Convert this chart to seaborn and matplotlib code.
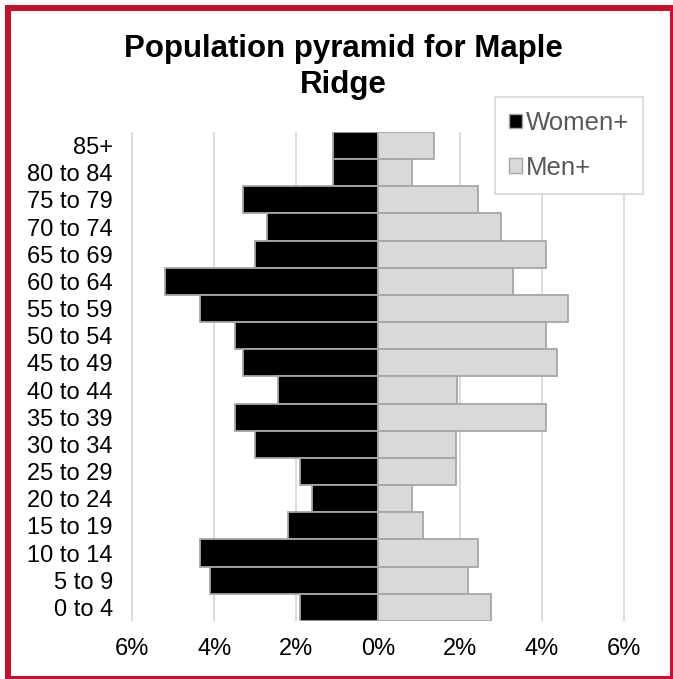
import matplotlib.pyplot as plt
import matplotlib.patches as mpatches
import pandas as pd
import seaborn as sns

# age groups, top of pyramid first
age_groups = ['85+', '80 to 84', '75 to 79', '70 to 74', '65 to 69', '60 to 64',
              '55 to 59', '50 to 54', '45 to 49', '40 to 44', '35 to 39', '30 to 34',
              '25 to 29', '20 to 24', '15 to 19', '10 to 14', '5 to 9', '0 to 4']
women = [1.1, 1.1, 3.3, 2.7, 3.0, 5.2, 4.35, 3.5, 3.3, 2.45, 3.5, 3.0,
         1.9, 1.6, 2.2, 4.35, 4.1, 1.9]
men = [1.37, 0.82, 2.45, 3.0, 4.1, 3.3, 4.65, 4.1, 4.37, 1.93, 4.1, 1.9,
       1.9, 0.82, 1.1, 2.45, 2.2, 2.75]
x_ticks = [-6, -4, -2, 0, 2, 4, 6]
x_labels = ['6%', '4%', '2%', '0%', '2%', '4%', '6%']

df = pd.DataFrame({'age': age_groups,
                   'women': [-w for w in women],
                   'men': men})

sns.set_style('white')
plt.rcParams['font.family'] = ['Liberation Sans', 'DejaVu Sans']

fig = plt.figure(figsize=(6.73, 6.79), dpi=100)
ax = fig.add_axes([131 / 673, 1 - 621 / 679, (625 - 131) / 673, (621 - 132) / 679])

edge = '#A6A6A6'
sns.barplot(data=df, x='women', y='age', color='black', edgecolor=edge,
            linewidth=1.3, width=1.0, saturation=1, ax=ax, zorder=3)
sns.barplot(data=df, x='men', y='age', color='#D9D9D9', edgecolor=edge,
            linewidth=1.3, width=1.0, saturation=1, ax=ax, zorder=3)

ax.set_xlim(-6.03, 6.03)
ax.set_ylim(len(age_groups) - 0.5, -0.5)
ax.set_xticks(x_ticks)
ax.set_xticklabels(x_labels)
ax.set_xlabel('')
ax.set_ylabel('')
ax.grid(axis='x', color='#D9D9D9', linewidth=1.3, zorder=0)
ax.grid(axis='y', visible=False)
ax.set_axisbelow(True)
for s in ax.spines.values():
    s.set_visible(False)
ax.tick_params(axis='both', length=0, labelsize=17, colors='black')
ax.tick_params(axis='y', pad=13)
ax.tick_params(axis='x', pad=12)

fig.text(343 / 673, 1 - 34 / 679, 'Population pyramid for Maple\nRidge',
         ha='center', va='top', fontsize=22.5, fontweight='bold', linespacing=1.25,
         color='black')

handles = [mpatches.Patch(facecolor='black', edgecolor=edge, label='Women+'),
           mpatches.Patch(facecolor='#D9D9D9', edgecolor=edge, label='Men+')]
leg = fig.legend(handles=handles, loc='upper left', bbox_to_anchor=(495 / 673, 1 - 97 / 679),
                 fontsize=18.5, frameon=True, fancybox=False, framealpha=1,
                 edgecolor='#D9D9D9', handlelength=0.5, handleheight=0.5,
                 handletextpad=0.15, labelspacing=0.8, borderpad=0.55, borderaxespad=0)
for t in leg.get_texts():
    t.set_color('#595959')
leg.get_frame().set_linewidth(1.3)
leg.set_zorder(5)

# red frame around the whole picture, right and bottom sides partly cut off
fig.patches.append(mpatches.Rectangle((8 / 673, 0), (672.5 - 8) / 673, 1 - 8 / 679,
                                      transform=fig.transFigure, fill=False,
                                      edgecolor='#C8102E', linewidth=4.3))

fig.savefig('out.png', dpi=100)
